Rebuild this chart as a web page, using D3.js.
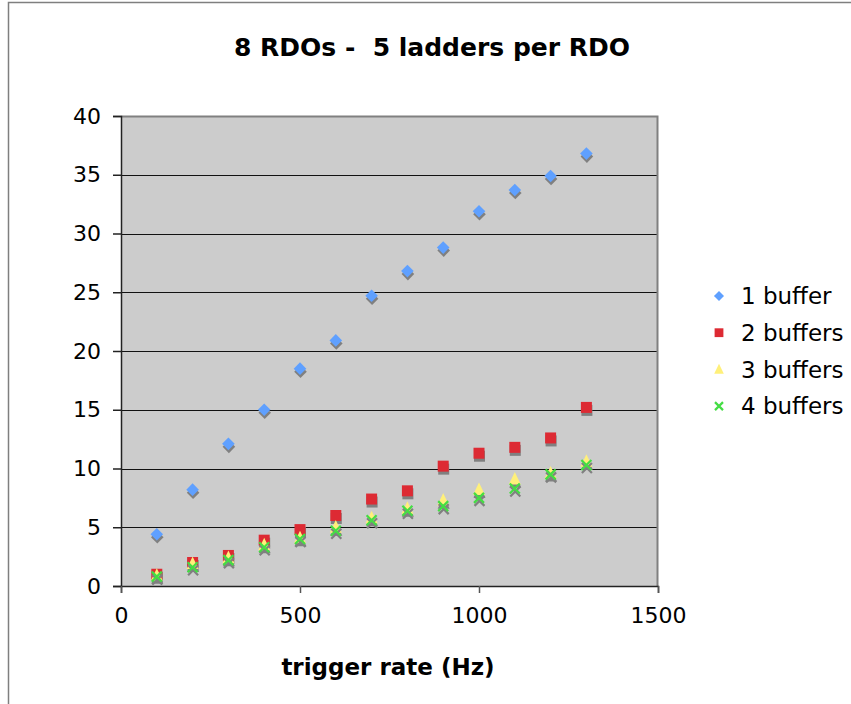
<!DOCTYPE html>
<html>
<head>
<meta charset="utf-8">
<script src="https://cdn.jsdelivr.net/npm/d3@7"></script>
<style>
  html, body { margin: 0; padding: 0; background: #ffffff; }
  svg { display: block; }
  text { font-family: Verdana, "DejaVu Sans", sans-serif; fill: #000; white-space: pre; }
</style>
</head>
<body>
<svg id="chart" width="851" height="704"></svg>
<script>
// Trigger rates (Hz) shared by all series
const rates = [100, 200, 300, 400, 500, 600, 700, 800, 900, 1000, 1100, 1200, 1300];

// Values per buffer configuration
const buffer1 = [4.4, 8.2, 12.1, 15.0, 18.5, 20.9, 24.7, 26.8, 28.8, 31.9, 33.7, 34.9, 36.8];
const buffer2 = [1.0, 2.0, 2.6, 3.9, 4.8, 6.0, 7.4, 8.1, 10.2, 11.3, 11.8, 12.6, 15.2];
const buffer3 = [0.9, 1.9, 2.4, 3.5, 4.1, 5.0, 5.8, 6.6, 7.3, 8.2, 9.1, 9.6, 10.6];
const buffer4 = [0.8, 1.6, 2.2, 3.3, 4.0, 4.7, 5.6, 6.4, 6.8, 7.5, 8.3, 9.5, 10.3];

const seriesNames = ["1 buffer", "2 buffers", "3 buffers", "4 buffers"];
const xTicks = [0, 500, 1000, 1500];
const yTicks = [0, 5, 10, 15, 20, 25, 30, 35, 40];

const series = [
  { name: seriesNames[0], values: buffer1, shape: "diamond", color: "#5fa0ff" },
  { name: seriesNames[1], values: buffer2, shape: "square", color: "#dd2a33" },
  { name: seriesNames[2], values: buffer3, shape: "triangle", color: "#fff07a" },
  { name: seriesNames[3], values: buffer4, shape: "cross", color: "#44dd44" }
];

const svg = d3.select("#chart");
const FONT = "Verdana, 'DejaVu Sans', sans-serif";

// Outer chart frame
svg.append("rect")
  .attr("x", 8.5).attr("y", 2.5)
  .attr("width", 900).attr("height", 760)
  .attr("fill", "#ffffff")
  .attr("stroke", "#7f7f7f").attr("stroke-width", 1.5);

const plot = { left: 121, right: 658, top: 116, bottom: 586 };

const x = d3.scaleLinear().domain([0, 1500]).range([plot.left, plot.right]);
const y = d3.scaleLinear().domain([0, 40]).range([plot.bottom, plot.top]);

// Plot background
svg.append("rect")
  .attr("x", plot.left).attr("y", plot.top)
  .attr("width", plot.right - plot.left).attr("height", plot.bottom - plot.top)
  .attr("fill", "#cccccc");

// Horizontal gridlines
svg.append("g")
  .selectAll("line")
  .data(yTicks.filter(t => t > 0 && t < 40))
  .join("line")
  .attr("x1", plot.left).attr("x2", plot.right)
  .attr("y1", d => Math.round(y(d)) + 0.5).attr("y2", d => Math.round(y(d)) + 0.5)
  .attr("stroke", "#111").attr("stroke-width", 1);

// Top and right plot border
svg.append("path")
  .attr("d", `M${plot.left},${plot.top + 0.5} H${plot.right - 0.5} V${plot.bottom}`)
  .attr("fill", "none").attr("stroke", "#808080").attr("stroke-width", 2);

// Y axis
const yAxis = d3.axisLeft(y).tickValues(yTicks).tickSize(8).tickPadding(12).tickFormat(d3.format("d"));
const gy = svg.append("g")
  .attr("transform", `translate(${plot.left},0)`)
  .call(yAxis);
gy.select(".domain").attr("stroke", "#222").attr("stroke-width", 1.5);
gy.selectAll(".tick line").attr("stroke", "#222").attr("stroke-width", 1.5);
gy.selectAll(".tick text").attr("font-size", 22).attr("font-family", FONT).attr("fill", "#000");

// X axis
const xAxis = d3.axisBottom(x).tickValues(xTicks).tickSize(7).tickPadding(14).tickFormat(d3.format("d"));
const gx = svg.append("g")
  .attr("transform", `translate(0,${plot.bottom})`)
  .call(xAxis);
gx.select(".domain").attr("stroke", "#222").attr("stroke-width", 1.5);
gx.selectAll(".tick line").attr("stroke", "#555").attr("stroke-width", 1.5);
gx.selectAll(".tick text").attr("font-size", 22).attr("font-family", FONT).attr("fill", "#000");

// Marker path generators
function markerPath(shape, s) {
  switch (shape) {
    case "diamond": return `M0,${-s} L${s},0 L0,${s} L${-s},0 Z`;
    case "square": return `M${-s},${-s} H${s} V${s} H${-s} Z`;
    case "triangle": return `M0,${-s * 1.2} L${s},${s * 0.9} L${-s},${s * 0.9} Z`;
    case "cross": return `M${-s},${-s} L${s},${s} M${s},${-s} L${-s},${s}`;
  }
}
const markerSize = { diamond: 6.3, square: 5.5, triangle: 6, cross: 5 };

function drawMarker(g, shape, color, s, withShadow) {
  const d = markerPath(shape, s);
  const isCross = shape === "cross";
  if (withShadow) {
    g.append("path").attr("d", d)
      .attr("transform", "translate(0.5,3)")
      .attr("fill", isCross ? "none" : "#808080")
      .attr("stroke", isCross ? "#808080" : "none")
      .attr("stroke-width", isCross ? 2.2 : 0);
  }
  g.append("path").attr("d", d)
    .attr("fill", isCross ? "none" : color)
    .attr("stroke", isCross ? color : "none")
    .attr("stroke-width", isCross ? 2.2 : 0);
}

// Data points
series.forEach(s => {
  const g = svg.append("g").attr("class", "series");
  s.values.forEach((v, i) => {
    const m = g.append("g").attr("transform", `translate(${x(rates[i])},${y(v)})`);
    drawMarker(m, s.shape, s.color, markerSize[s.shape], true);
  });
});

// Title
svg.append("text")
  .attr("x", 432).attr("y", 56)
  .attr("text-anchor", "middle")
  .attr("font-size", 25).attr("font-weight", "bold")
  .text("8 RDOs -  5 ladders per RDO");

// X axis title
svg.append("text")
  .attr("x", 388).attr("y", 675)
  .attr("text-anchor", "middle")
  .attr("font-size", 23).attr("font-weight", "bold")
  .text("trigger rate (Hz)");

// Legend
const legend = svg.append("g");
series.forEach((s, i) => {
  const yy = 296 + i * 36.7;
  const m = legend.append("g").attr("transform", `translate(719,${yy})`);
  drawMarker(m, s.shape, s.color, markerSize[s.shape] * 0.8, false);
  legend.append("text")
    .attr("x", 741).attr("y", yy)
    .attr("dy", "0.36em")
    .attr("font-size", 23)
    .text(s.name);
});
</script>
</body>
</html>
